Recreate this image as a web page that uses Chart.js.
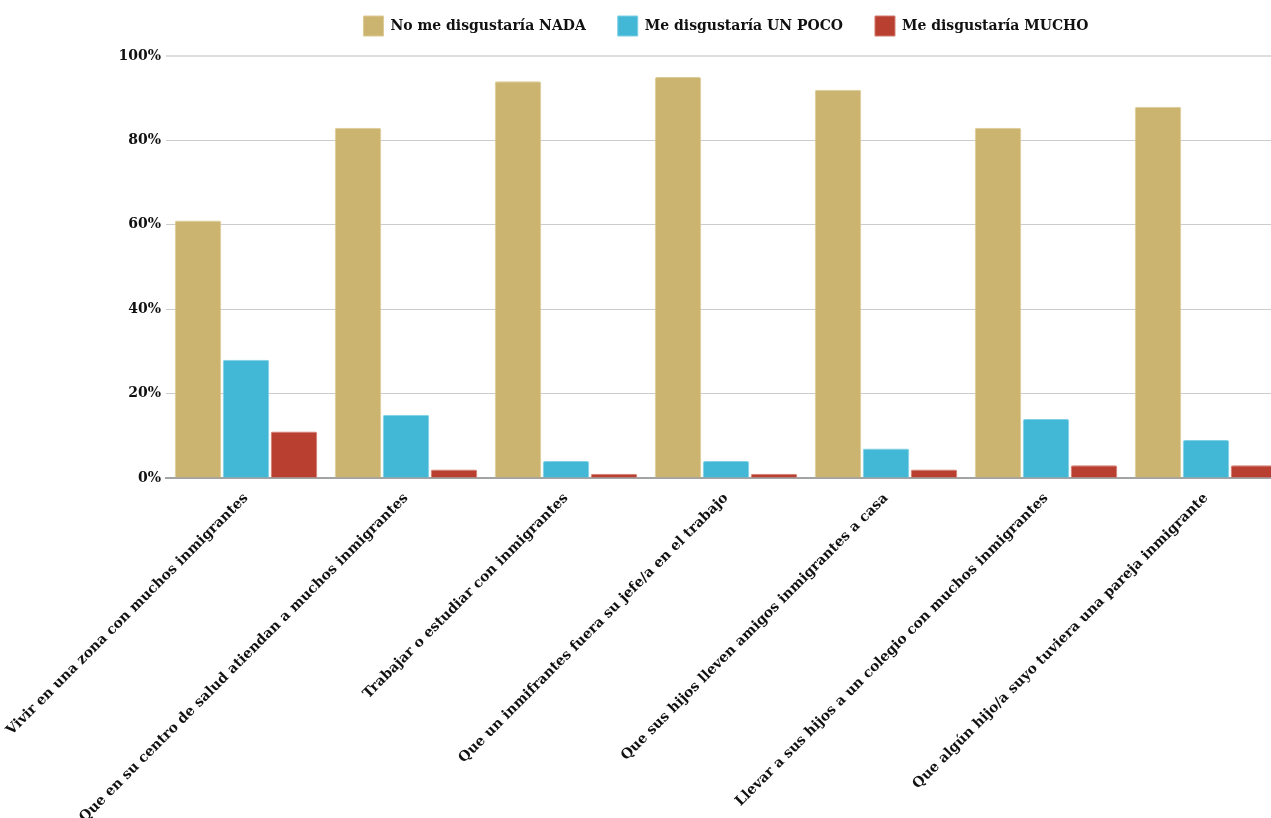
<!DOCTYPE html>
<html>
<head>
<meta charset="utf-8">
<script src="https://cdn.jsdelivr.net/npm/chart.js@4"></script>
<style>
html,body{margin:0;padding:0;background:#fff;overflow:hidden;width:1271px;height:818px;}
#wrap{width:1290px;height:818px;}
</style>
</head>
<body>
<div id="wrap"><canvas id="c" width="1290" height="818"></canvas></div>
<script>
const categories = [
  "Vivir en una zona con muchos inmigrantes",
  "Que en su centro de salud atiendan a muchos inmigrantes",
  "Trabajar o estudiar con inmigrantes",
  "Que un inmifrantes fuera su jefe/a en el trabajo",
  "Que sus hijos lleven amigos inmigrantes a casa",
  "Llevar a sus hijos a un colegio con muchos inmigrantes",
  "Que algún hijo/a suyo tuviera una pareja inmigrante"
];
const seriesNames = ["No me disgustaría NADA", "Me disgustaría UN POCO", "Me disgustaría MUCHO"];
const nada  = [61, 83, 94, 95, 92, 83, 88];
const poco  = [28, 15, 4, 4, 7, 14, 9];
const mucho = [11, 2, 1, 1, 2, 3, 3];
const yTicks = [0, 20, 40, 60, 80, 100];

const FONT = "'DejaVu Serif', serif";
const colors = ["#CBB46F", "#42B8D6", "#B93F30"];
const borders = ["#DCCB95", "#7FCFE5", "#D27B6E"];

// adds extra space below the legend so the plot starts lower
const legendSpacer = {
  id: 'legendSpacer',
  beforeLayout(chart) {
    const lg = chart.legend;
    if (lg && !lg._spacerPatched) {
      const f = lg.fit;
      lg.fit = function () { f.call(this); this.height += 10; };
      lg._spacerPatched = true;
    }
  }
};

new Chart(document.getElementById('c'), {
  type: 'bar',
  data: {
    labels: categories,
    datasets: [nada, poco, mucho].map((d, i) => ({
      label: seriesNames[i],
      data: d,
      backgroundColor: colors[i],
      borderColor: borders[i],
      borderWidth: 1,
      borderRadius: 2,
      categoryPercentage: 0.9,
      barPercentage: 0.97
    }))
  },
  plugins: [legendSpacer],
  options: {
    responsive: false,
    animation: false,
    layout: { padding: { top: -16, right: 4, left: 0, bottom: 0 } },
    plugins: {
      tooltip: { enabled: false },
      legend: {
        position: 'top',
        fullSize: false,
        labels: {
          boxWidth: 20,
          boxHeight: 20,
          padding: 32,
          color: '#111',
          font: { family: FONT, weight: 'bold', size: 14 }
        }
      }
    },
    scales: {
      x: {
        grid: { display: false },
        border: { display: true, color: '#a3a3a3', width: 2 },
        ticks: {
          autoSkip: false,
          minRotation: 45,
          maxRotation: 45,
          padding: 4,
          color: '#111',
          font: { family: FONT, weight: 'bold', size: 14 }
        },
        afterFit(s) { s.height = 340; s.paddingLeft = 0; s.paddingRight = 0; }
      },
      y: {
        min: 0,
        max: 100,
        afterBuildTicks(s) { s.ticks = yTicks.map(v => ({ value: v })); },
        grid: {
          drawTicks: false,
          color: ctx => ctx.tick && ctx.tick.value === 100 ? '#dedede' : (ctx.tick && ctx.tick.value === 0 ? 'rgba(0,0,0,0)' : '#cccccc'),
          lineWidth: ctx => ctx.tick && ctx.tick.value === 100 ? 2 : 1
        },
        border: { display: false },
        ticks: {
          padding: 5,
          color: '#111',
          font: { family: FONT, weight: 'bold', size: 14 },
          callback: v => v + '%'
        },
        afterFit(s) { s.width = 166; s.paddingTop = 0; s.paddingBottom = 0; }
      }
    }
  }
});
</script>
</body>
</html>
